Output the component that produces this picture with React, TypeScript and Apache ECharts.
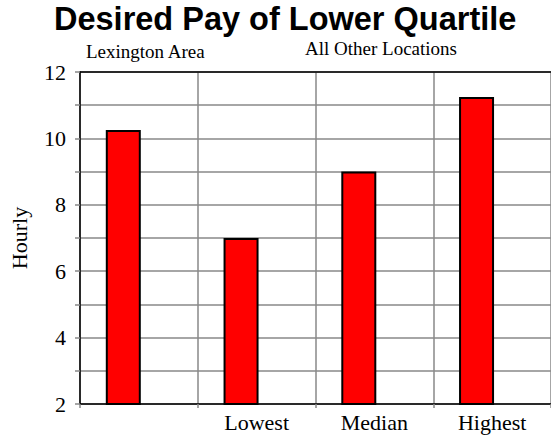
import React, { useEffect, useRef } from "react";
import * as echarts from "echarts";

const categories = ["", "Lowest", "Median", "Highest"];
const hourlyValues = [10.25, 7.0, 9.0, 11.25];
const emptySeries = [null, null, null, null];
const titleText = "Desired Pay of Lower Quartile";
const yAxisName = "Hourly";
const groupLabels = ["Lexington Area", "All Other Locations"];

const serif = "'Liberation Serif', 'Times New Roman', serif";

export default function App() {
  const ref = useRef<HTMLDivElement>(null);
  useEffect(() => {
    const chart = echarts.init(ref.current!, null, { renderer: "svg" });
    chart.setOption({
      animation: false,
      backgroundColor: "#ffffff",
      title: {
        text: titleText,
        left: 54,
        top: 0,
        padding: 0,
        textStyle: {
          fontFamily: "Liberation Sans, Arial, sans-serif",
          fontWeight: "bold",
          fontSize: 32.5,
          lineHeight: 38,
          color: "#000",
        },
      },
      graphic: [
        {
          type: "text",
          left: 86,
          top: 42,
          style: { text: groupLabels[0], font: "19px " + serif, fill: "#000" },
        },
        {
          type: "text",
          left: 305,
          top: 39,
          style: { text: groupLabels[1], font: "19px " + serif, fill: "#000" },
        },
      ],
      grid: { left: 80, top: 72, width: 474, height: 332, containLabel: false },
      xAxis: [
        {
          type: "category",
          data: categories,
          position: "bottom",
          axisLine: { show: true, lineStyle: { color: "#000", width: 1.5 } },
          axisTick: { show: true, length: 4, lineStyle: { color: "#888", width: 1.5 } },
          splitLine: { show: true, lineStyle: { color: "#888", width: 1.5 } },
          axisLabel: { color: "#000", fontSize: 22, fontFamily: serif, margin: 7 },
        },
        {
          type: "category",
          data: categories,
          position: "top",
          axisLine: { show: true, lineStyle: { color: "#000", width: 1.5 } },
          axisTick: { show: false },
          axisLabel: { show: false },
          splitLine: { show: false },
        },
      ],
      yAxis: {
        type: "value",
        min: 2,
        max: 12,
        interval: 1,
        name: yAxisName,
        nameLocation: "middle",
        nameGap: 50,
        nameTextStyle: { color: "#000", fontSize: 22, fontFamily: serif },
        axisLine: { show: true, lineStyle: { color: "#000", width: 1.5 } },
        axisTick: { show: true, length: 5, lineStyle: { color: "#888", width: 1.5 } },
        splitLine: { show: true, lineStyle: { color: "#888", width: 1.5 } },
        axisLabel: {
          color: "#000",
          fontSize: 22,
          fontFamily: serif,
          margin: 14,
          formatter: (v: number) => (v % 2 === 0 ? String(v) : ""),
        },
      },
      series: [
        {
          type: "bar",
          data: hourlyValues,
          barWidth: 35,
          barGap: "-11%",
          itemStyle: { color: "#ff0000", borderColor: "#000", borderWidth: 2 },
        },
        {
          type: "bar",
          data: emptySeries,
          barWidth: 35,
          barGap: "-11%",
          itemStyle: { color: "#0000ff" },
        },
      ],
    });
    return () => chart.dispose();
  }, []);
  return (
    <div
      ref={ref}
      style={{ position: "absolute", left: 0, top: 0, width: 551, height: 437 }}
    />
  );
}
